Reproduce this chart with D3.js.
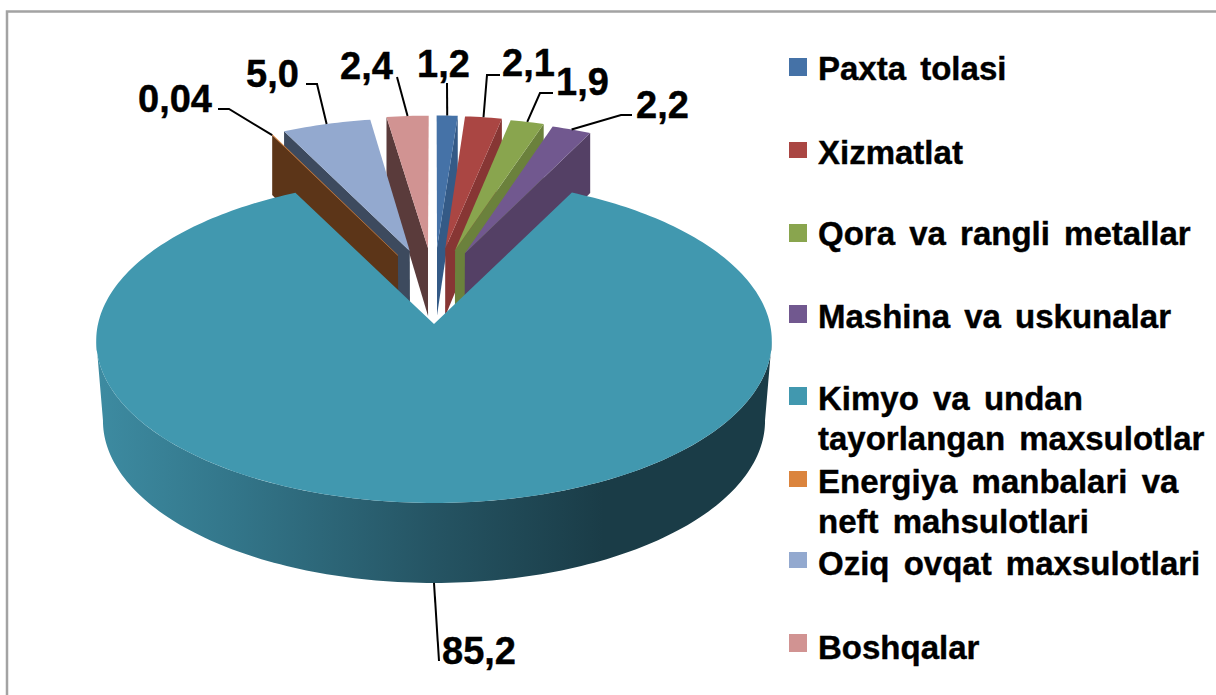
<!DOCTYPE html>
<html>
<head>
<meta charset="utf-8">
<script src="https://d3js.org/d3.v7.min.js"></script>
<style>
  html, body { margin: 0; padding: 0; background: #fff; overflow: hidden; }
  text { font-family: "Liberation Sans", Arial, sans-serif; font-weight: bold; fill: #000; stroke: #000; stroke-width: 0.4px; }
</style>
</head>
<body>
<svg id="drawing_region"></svg>
<script>
// slice order follows the legend
const categories = [
    ['Paxta tolasi'],
    ['Xizmatlat'],
    ['Qora va rangli metallar'],
    ['Mashina va uskunalar'],
    ['Kimyo va undan', 'tayorlangan maxsulotlar'],
    ['Energiya manbalari va', 'neft mahsulotlari'],
    ['Oziq ovqat maxsulotlari'],
    ['Boshqalar']
];
const values = [1.2, 2.1, 1.9, 2.2, 85.2, 0.04, 5.0, 2.4];
const value_labels = ['1,2', '2,1', '1,9', '2,2', '85,2', '0,04', '5,0', '2,4'];

const top_colors = ['#4572A7', '#AA4643', '#89A54E', '#71588F', '#4198AF', '#DB843D', '#93A9CF', '#D19392'];
const wall_colors = ['#345A86', '#873634', '#6B813C', '#544065', '#2A6374', '#5C3518', '#3D4A5E', '#5A3B3B'];

// label anchor (text start, baseline) and the elbow of its leader line
const label_layout = [
    {x: 417, y: 77, from: [447, 83], elbow: null},
    {x: 502, y: 76, from: [500, 75], elbow: [487, 75]},
    {x: 556, y: 95, from: [553, 93], elbow: [540, 93]},
    {x: 636, y: 118, from: [632, 115], elbow: [621, 115]},
    {x: 442, y: 664, from: [439, 661], elbow: null},
    {x: 138, y: 112, from: [218, 109], elbow: [229, 109]},
    {x: 246, y: 87, from: [306, 84], elbow: [317, 84]},
    {x: 340, y: 79, from: [397, 77], elbow: null}
];
const legend_baselines = [80, 164, 245, 328, 410, 493, 575, 659];
const legend_boxes = [58, 142, 224, 305, 387, 471, 552, 634];
const legend_box_heights = [18, 16, 18, 18, 18, 16, 16, 18];

const width = 1216, height = 695;
const big = 4;
const explode = 0.5, explode_side = 0.5;

const svg = d3.select('#drawing_region')
    .attr('width', width)
    .attr('height', height)
    .style('display', 'block');

// frame, only the top and left edges fall inside the picture
svg.append('rect')
    .attr('x', 7).attr('y', 11.5)
    .attr('width', 1240).attr('height', 720)
    .attr('fill', '#fff')
    .attr('stroke', '#a3a3a3')
    .attr('stroke-width', 2.5);

const defs = svg.append('defs');
const grad = defs.append('linearGradient')
    .attr('id', 'big_wall')
    .attr('gradientUnits', 'userSpaceOnUse')
    .attr('x1', 97).attr('x2', 772).attr('y1', 0).attr('y2', 0);
[[0, '#3D8BA1'], [0.2, '#33768A'], [0.5, '#255463'], [0.75, '#1A3C47'], [1, '#1A3C47']].forEach( s => {
    grad.append('stop').attr('offset', s[0]).attr('stop-color', s[1]);
});

// perspective of the pie plane: u to the right, v towards the viewer, 1 = pie radius
const project = ( u, v, lower ) => {
    const w = 1 - 0.103 * v;
    const far = 1 - 0.06 * Math.max( 0, -v - 0.9 );
    const x = 434 + u * 336 * far / w;
    const y = 324 + v * 160.5 / w;
    if ( !lower ) return [x, y];
    const shrink = v >= 0 ? 0.98 : 1 - 0.02 * Math.max( 0, v + 1 );
    const depth = v >= 0 ? 80 : Math.max( 60, 80 + 24 * v );
    return [434 + (x - 434) * shrink, y + depth];
};

const pie = d3.pie().sort( null ).value( d => d );
const arcs = pie( values );
const line = d3.line();

const offset_of = ( d, i ) => {
    if ( i === big ) return [0, 0];
    const mid = (d.startAngle + d.endAngle) / 2;
    return [explode * explode_side * Math.sin( mid ), -explode * Math.cos( mid )];
};
const point = ( d, i, a, r, lower ) => {
    const o = offset_of( d, i );
    return project( o[0] + r * Math.sin( a ), o[1] - r * Math.cos( a ), lower );
};
const sweep = ( a0, a1 ) => {
    const n = Math.max( 2, Math.ceil( Math.abs( a1 - a0 ) / 0.02 ) );
    return d3.range( n + 1 ).map( k => a0 + (a1 - a0) * k / n );
};

const draw_order = [0, 1, 2, 3, 7, 6, 5];
const chart = svg.append('g');

draw_order.forEach( i => {
    const d = arcs[i];
    // radial wall that faces the viewer
    const a = d.startAngle < Math.PI ? d.endAngle : d.startAngle;
    chart.append('path')
        .attr('d', line([
            point( d, i, a, 0 ), point( d, i, a, 1 ),
            point( d, i, a, 1, true ), point( d, i, a, 0, true )
        ]) + 'Z')
        .attr('fill', wall_colors[i]);

    const face = sweep( d.startAngle, d.endAngle ).map( t => point( d, i, t, 1 ) );
    face.unshift( point( d, i, 0, 0 ) );
    chart.append('path')
        .attr('d', line( face ) + 'Z')
        .attr('fill', top_colors[i])
        .attr('stroke', i === 5 ? top_colors[i] : 'none')
        .attr('stroke-width', 0.4);
});

// the large slice sits in front of everything
const d_big = arcs[big];
const front = sweep( Math.PI * 0.5 + 0.1, Math.PI * 1.5 - 0.1 );
chart.append('path')
    .attr('d', line( front.map( t => point( d_big, big, t, 1 ) )
        .concat( front.slice().reverse().map( t => point( d_big, big, t, 1, true ) ) ) ) + 'Z')
    .attr('fill', 'url(#big_wall)');
const big_face = sweep( d_big.startAngle, d_big.endAngle ).map( t => point( d_big, big, t, 1 ) );
big_face.unshift( point( d_big, big, 0, 0 ) );
chart.append('path')
    .attr('d', line( big_face ) + 'Z')
    .attr('fill', top_colors[big]);

// leader lines end on the outer edge of their slice
const labels = svg.append('g');
arcs.forEach( ( d, i ) => {
    const l = label_layout[i];
    const mid = (d.startAngle + d.endAngle) / 2;
    let end = point( d, i, mid, 1 );
    if ( i === big ) end = point( d, i, Math.PI, 1, true );
    if ( i === 5 ) end = point( d, i, d.startAngle, 1 );
    const pts = l.elbow ? [l.from, l.elbow, end] : [l.from, end];
    labels.append('path')
        .attr('d', line( pts ))
        .attr('fill', 'none')
        .attr('stroke', '#000')
        .attr('stroke-width', 2);
    labels.append('text')
        .attr('x', l.x)
        .attr('y', l.y)
        .attr('font-size', '38px')
        .text( value_labels[i] );
});

// legend
const legend = svg.append('g');
categories.forEach( ( c, i ) => {
    legend.append('rect')
        .attr('x', 789)
        .attr('y', legend_boxes[i])
        .attr('width', 18)
        .attr('height', legend_box_heights[i])
        .attr('fill', top_colors[i]);
    c.forEach( ( t, j ) => {
        legend.append('text')
            .attr('x', 818)
            .attr('y', legend_baselines[i] + j * 40)
            .attr('font-size', '33px')
            .attr('word-spacing', '5px')
            .text( t );
    });
});
</script>
</body>
</html>
